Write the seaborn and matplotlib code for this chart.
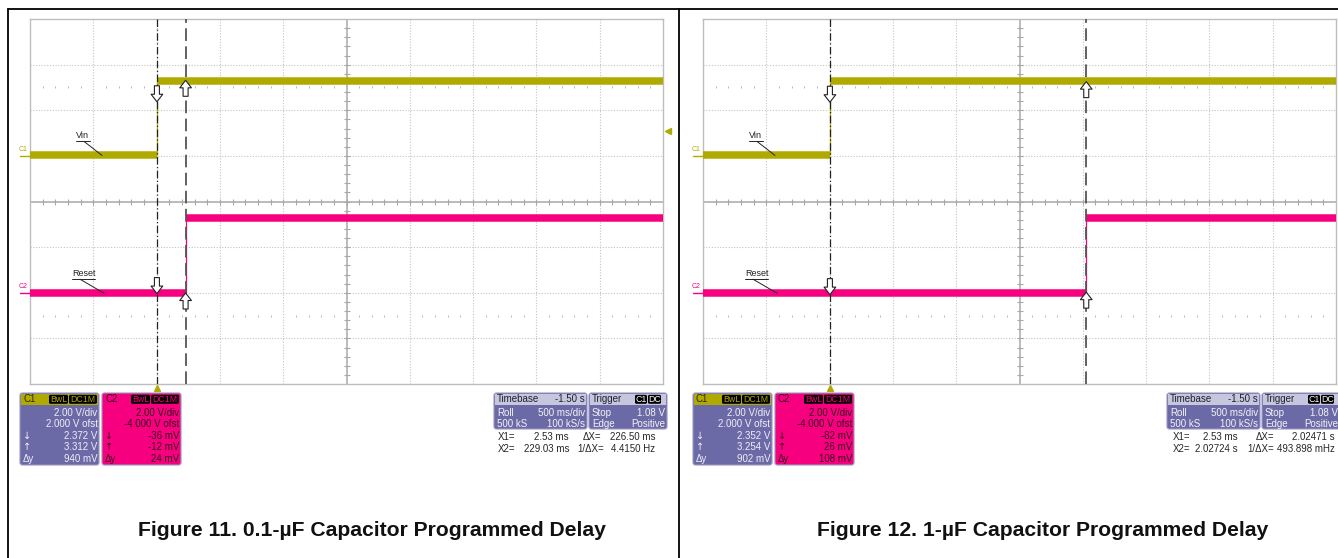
import numpy as np
import pandas as pd
import matplotlib
matplotlib.use("Agg")
import matplotlib.pyplot as plt
import seaborn as sns
from matplotlib.patches import FancyBboxPatch, Rectangle

# scope settings (same for both captures)
time_per_div = 0.5          # s/div
trigger_div = 2             # trigger position in divisions from the left edge
n_xdiv, n_ydiv = 10, 8
c1_vdiv, c1_offset = 2.0, 2.0
c2_vdiv, c2_offset = 2.0, -4.0
trigger_level = 1.08

# per capture values: Figure 11 (0.1 uF) and Figure 12 (1 uF)
captions = ["Figure 11. 0.1-µF Capacitor Programmed Delay",
            "Figure 12. 1-µF Capacitor Programmed Delay"]
vin_edge = [0.0, 0.0]                 # s
reset_edge = [0.229, 2.027]           # s
vin_low = [0.02, 0.02]                # V
vin_high = [3.28, 3.28]
reset_low = [-0.02, -0.02]
reset_high = [3.28, 3.28]
cursor_x1 = [0.00253, 0.00253]        # s
cursor_x2 = [0.22903, 2.02724]
c1_at_x1 = [2.372, 2.352]             # V at the cursors
c1_at_x2 = [3.312, 3.254]
c2_at_x1 = [-0.036, -0.082]
c2_at_x2 = [-0.012, 0.026]
c1_dy = ["940 mV", "902 mV"]
c2_dy = ["24 mV", "108 mV"]
x1_text = ["2.53 ms", "2.53 ms"]
x2_text = ["229.03 ms", "2.02724 s"]
dx_text = ["226.50 ms", "2.02471 s"]
inv_dx_text = ["4.4150 Hz", "493.898 mHz"]

OLIVE = "#b0aa00"
MAGENTA = "#f7007f"
PURPLE = "#6c6aa6"
LAVENDER = "#c6c6de"
GRID = "#c4c4c4"

W, H = 1338, 558
sns.set_style("white")
plt.rcParams["font.family"] = ["Liberation Sans", "DejaVu Sans"]

fig = plt.figure(figsize=(W / 100, H / 100), dpi=100)


def to_div(v, vdiv, offset):
    return (np.asarray(v) + offset) / vdiv


def fig_rect(x0, x1, y0, y1):
    return [x0 / W, (H - y1) / H, (x1 - x0) / W, (y1 - y0) / H]


tmin = -trigger_div * time_per_div
tmax = (n_xdiv - trigger_div) * time_per_div
panel_dx = 673
plot_x0, plot_x1, plot_y0, plot_y1 = 30, 663, 19, 384
div_h = (plot_y1 - plot_y0) / n_ydiv

over = fig.add_axes([0, 0, 1, 1], zorder=10)
over.set_xlim(0, W)
over.set_ylim(H, 0)
over.axis("off")


def ypix(div):
    return plot_y0 + (n_ydiv / 2 - div) * div_h


def tag(x0, x1, y, label, color):
    over.add_patch(FancyBboxPatch((x0, y - 4.5), x1 - x0, 9,
                                  boxstyle="round,pad=0,rounding_size=1.5",
                                  fc="black", ec="none"))
    over.text((x0 + x1) / 2, y + 0.3, label, color=color, fontsize=6.3,
              ha="center", va="center")


def channel_box(x0, name, rows, header_col, body_col, txt_col, name_col):
    w, h, y0 = 79, 72, 393
    over.add_patch(FancyBboxPatch((x0, y0), w, h,
                                  boxstyle="round,pad=0,rounding_size=2.5",
                                  fc=body_col, ec="#9a98c4", lw=0.8))
    over.add_patch(Rectangle((x0 + 1, y0 + 1), w - 2, 10.5, fc=header_col, ec="none"))
    over.text(x0 + 3, y0 + 6.5, name, color=name_col, fontsize=7, va="center")
    tag(x0 + 29, x0 + 48, y0 + 6.3, "BwL", header_col)
    tag(x0 + 49, x0 + 77, y0 + 6.3, "DC1M", header_col)
    syms = ["", "", "↓", "↑", "Δy"]
    for k, (s, r) in enumerate(zip(syms, rows)):
        yy = 413 + k * 11.4
        over.text(x0 + w - 1.5, yy, r, color=txt_col, fontsize=7, ha="right", va="center")
        if s:
            over.text(x0 + 3, yy, s, color=txt_col, fontsize=7, ha="left", va="center",
                      family=["DejaVu Sans"] if s != "Δy" else ["Liberation Sans"])


def small_box(x0, w, head, head_right, rows, tags=None):
    y0, h = 393, 36
    over.add_patch(FancyBboxPatch((x0, y0), w, h,
                                  boxstyle="round,pad=0,rounding_size=2.5",
                                  fc=PURPLE, ec="#9a98c4", lw=0.8))
    over.add_patch(Rectangle((x0 + 1, y0 + 1), w - 2, 10.5, fc=LAVENDER, ec="none"))
    over.text(x0 + 3, y0 + 6.5, head, color="#202030", fontsize=7, va="center")
    if head_right:
        over.text(x0 + w - 2, y0 + 6.5, head_right, color="#202030", fontsize=7,
                  ha="right", va="center")
    if tags:
        tag(x0 + 46, x0 + 58, y0 + 6.3, tags[0], "white")
        tag(x0 + 59, x0 + 72, y0 + 6.3, tags[1], "white")
    for k, (left, right) in enumerate(rows):
        yy = 413 + k * 11.4
        over.text(x0 + 3, yy, left, color="#f2f2f8", fontsize=7, va="center")
        over.text(x0 + w - 2, yy, right, color="#f2f2f8", fontsize=7, ha="right", va="center")


def cursor_arrow(ax, x, y, up):
    ax.annotate("", xy=(x, y), xytext=(0, -11.5 if up else 11.5), textcoords="offset points",
                arrowprops=dict(arrowstyle="simple,head_length=0.45,head_width=0.7,tail_width=0.3",
                                mutation_scale=12, fc="white", ec="#222222", lw=0.8,
                                shrinkA=0, shrinkB=0),
                zorder=6)


# x positions of the cursor readout texts, per panel
readout_x = [dict(x1=498, v1=569, dx=583, vdx=655, idx=577),
             dict(x1=1173, v1=1238, dx=1256, vdx=1335, idx=1247)]

for i in range(2):
    ox = i * panel_dx
    ax = fig.add_axes(fig_rect(plot_x0 + ox, plot_x1 + ox, plot_y0, plot_y1))
    ax.set_xlim(tmin, tmax)
    ax.set_ylim(-n_ydiv / 2, n_ydiv / 2)
    ax.set_xticks([])
    ax.set_yticks([])
    for sp in ax.spines.values():
        sp.set_color("#bdbdbd")
        sp.set_linewidth(1.0)

    # graticule
    xs = tmin + np.arange(1, n_xdiv) * time_per_div
    tc = tmin + n_xdiv / 2 * time_per_div
    for x in xs:
        if np.isclose(x, tc):
            ax.axvline(x, color="#a8a8a8", lw=1.1, zorder=1)
        else:
            ax.axvline(x, color=GRID, lw=0.8, ls=(0, (1, 1.5)), zorder=1)
    for y in range(-3, 4):
        if y == 0:
            ax.axhline(0, color="#a8a8a8", lw=1.1, zorder=1)
        else:
            ax.axhline(y, color=GRID, lw=0.8, ls=(0, (1, 1.5)), zorder=1)
    fine_t = tmin + np.arange(1, n_xdiv * 5) * time_per_div / 5
    ax.plot(fine_t, np.zeros_like(fine_t), ls="none", marker="|", ms=4, color="#a8a8a8", mew=0.8)
    fine_y = np.arange(1, n_ydiv * 5) / 5 - n_ydiv / 2
    ax.plot(np.full_like(fine_y, tc), fine_y, ls="none", marker="_", ms=4, color="#a8a8a8", mew=0.8)
    dots_t = fine_t[(np.arange(1, n_xdiv * 5) % 5) != 0]
    for yy in (2.5, -2.5):
        ax.plot(dots_t, np.full_like(dots_t, yy), ls="none", marker="|", ms=1.6,
                color="#b8b8b8", mew=0.7)

    # traces
    segs = []
    for ch, edge, lo, hi, vd, off in [("C1", vin_edge[i], vin_low[i], vin_high[i], c1_vdiv, c1_offset),
                                      ("C2", reset_edge[i], reset_low[i], reset_high[i], c2_vdiv, c2_offset)]:
        segs += [dict(ch=ch, seg=ch + "lo", t=tmin, y=to_div(lo, vd, off)),
                 dict(ch=ch, seg=ch + "lo", t=edge, y=to_div(lo, vd, off)),
                 dict(ch=ch, seg=ch + "hi", t=edge, y=to_div(hi, vd, off)),
                 dict(ch=ch, seg=ch + "hi", t=tmax, y=to_div(hi, vd, off))]
        ax.vlines(edge, to_div(lo, vd, off), to_div(hi, vd, off),
                  color=OLIVE if ch == "C1" else MAGENTA, lw=0.9, zorder=3)
    df = pd.DataFrame(segs)
    sns.lineplot(data=df, x="t", y="y", hue="ch", units="seg", estimator=None,
                 palette={"C1": OLIVE, "C2": MAGENTA}, lw=5.4, legend=False,
                 solid_capstyle="butt", ax=ax, zorder=4)
    ax.set_xlabel("")
    ax.set_ylabel("")

    # cursors
    ax.axvline(cursor_x1[i], color="#222222", lw=0.9, ls=(0, (6, 2, 1, 2)), zorder=5)
    ax.axvline(cursor_x2[i], color="#555555", lw=1.3, ls=(0, (7, 3)), zorder=5)
    cursor_arrow(ax, cursor_x1[i], to_div(c1_at_x1[i], c1_vdiv, c1_offset), up=False)
    cursor_arrow(ax, cursor_x2[i], to_div(c1_at_x2[i], c1_vdiv, c1_offset), up=True)
    cursor_arrow(ax, cursor_x1[i], to_div(c2_at_x1[i], c2_vdiv, c2_offset), up=False)
    cursor_arrow(ax, cursor_x2[i], to_div(c2_at_x2[i], c2_vdiv, c2_offset), up=True)

    # trigger position and level markers
    ax.plot([0.0], [-n_ydiv / 2 - 0.09], marker="^", ms=5, color=OLIVE, clip_on=False, zorder=6)
    if i == 0:
        ax.plot([tmax + 0.04], [to_div(trigger_level, c1_vdiv, c1_offset)], marker="<", ms=5,
                color=OLIVE, clip_on=False, zorder=6)

    # channel ground markers and labels
    for name, col, vd, off, lbl, ytrace in [("C1", OLIVE, c1_vdiv, c1_offset, "Vin", vin_low[i]),
                                           ("C2", MAGENTA, c2_vdiv, c2_offset, "Reset", reset_low[i])]:
        yg = ypix(to_div(0, vd, off))
        over.plot([20 + ox, 30 + ox], [yg, yg], color=col, lw=1.0)
        over.text(19 + ox, yg - 3, name, color=col, fontsize=5, va="bottom")
        yt = ypix(to_div(ytrace, vd, off))
        ylab = yt - 15
        tx = (76 if lbl == "Vin" else 72) + ox
        over.text(tx, ylab, lbl, color="#222222", fontsize=6.5, va="bottom")
        tw = 14 if lbl == "Vin" else 23
        over.plot([tx, tx + tw], [ylab + 1, ylab + 1], color="#222222", lw=0.7)
        over.plot([tx + 8, tx + 26 if lbl == "Vin" else tx + 32], [ylab + 1, yt], color="#222222", lw=0.7)

    # info boxes
    c1_rows = ["2.00 V/div", "2.000 V ofst", f"{c1_at_x1[i]:.3f} V", f"{c1_at_x2[i]:.3f} V", c1_dy[i]]
    c2_rows = ["2.00 V/div", "-4.000 V ofst", f"{c2_at_x1[i] * 1000:.0f} mV",
               f"{c2_at_x2[i] * 1000:.0f} mV", c2_dy[i]]
    channel_box(20 + ox, "C1", c1_rows, OLIVE, PURPLE, "#eeeef6", "#2a2a10")
    channel_box(102 + ox, "C2", c2_rows, MAGENTA, MAGENTA, "#3a0020", "#3a0020")
    small_box(494 + ox, 93, "Timebase", "-1.50 s", [("Roll", "500 ms/div"), ("500 kS", "100 kS/s")])
    small_box(589 + ox, 78, "Trigger", None, [("Stop", "1.08 V"), ("Edge", "Positive")],
              tags=("C1", "DC"))
    rx = readout_x[i]
    over.text(rx["x1"], 437, "X1=", fontsize=7, va="center")
    over.text(rx["v1"], 437, x1_text[i], fontsize=7, va="center", ha="right")
    over.text(rx["dx"], 437, "ΔX=", fontsize=7, va="center")
    over.text(rx["vdx"], 437, dx_text[i], fontsize=7, va="center", ha="right")
    over.text(rx["x1"], 449, "X2=", fontsize=7, va="center")
    over.text(rx["v1"], 449, x2_text[i], fontsize=7, va="center", ha="right")
    over.text(rx["idx"], 449, "1/ΔX=", fontsize=7, va="center")
    over.text(rx["vdx"], 449, inv_dx_text[i], fontsize=7, va="center", ha="right")

    # caption
    over.text(372 + ox - (2 if i else 0), 530, captions[i], fontsize=15.2, fontweight="bold",
              ha="center", va="center", color="#111111")

# page frame
over.plot([8, W], [9, 9], color="black", lw=1.3)
over.plot([8, 8], [9, H], color="black", lw=1.3)
over.plot([679, 679], [9, H], color="black", lw=1.3)

fig.savefig("out.png", dpi=100)
